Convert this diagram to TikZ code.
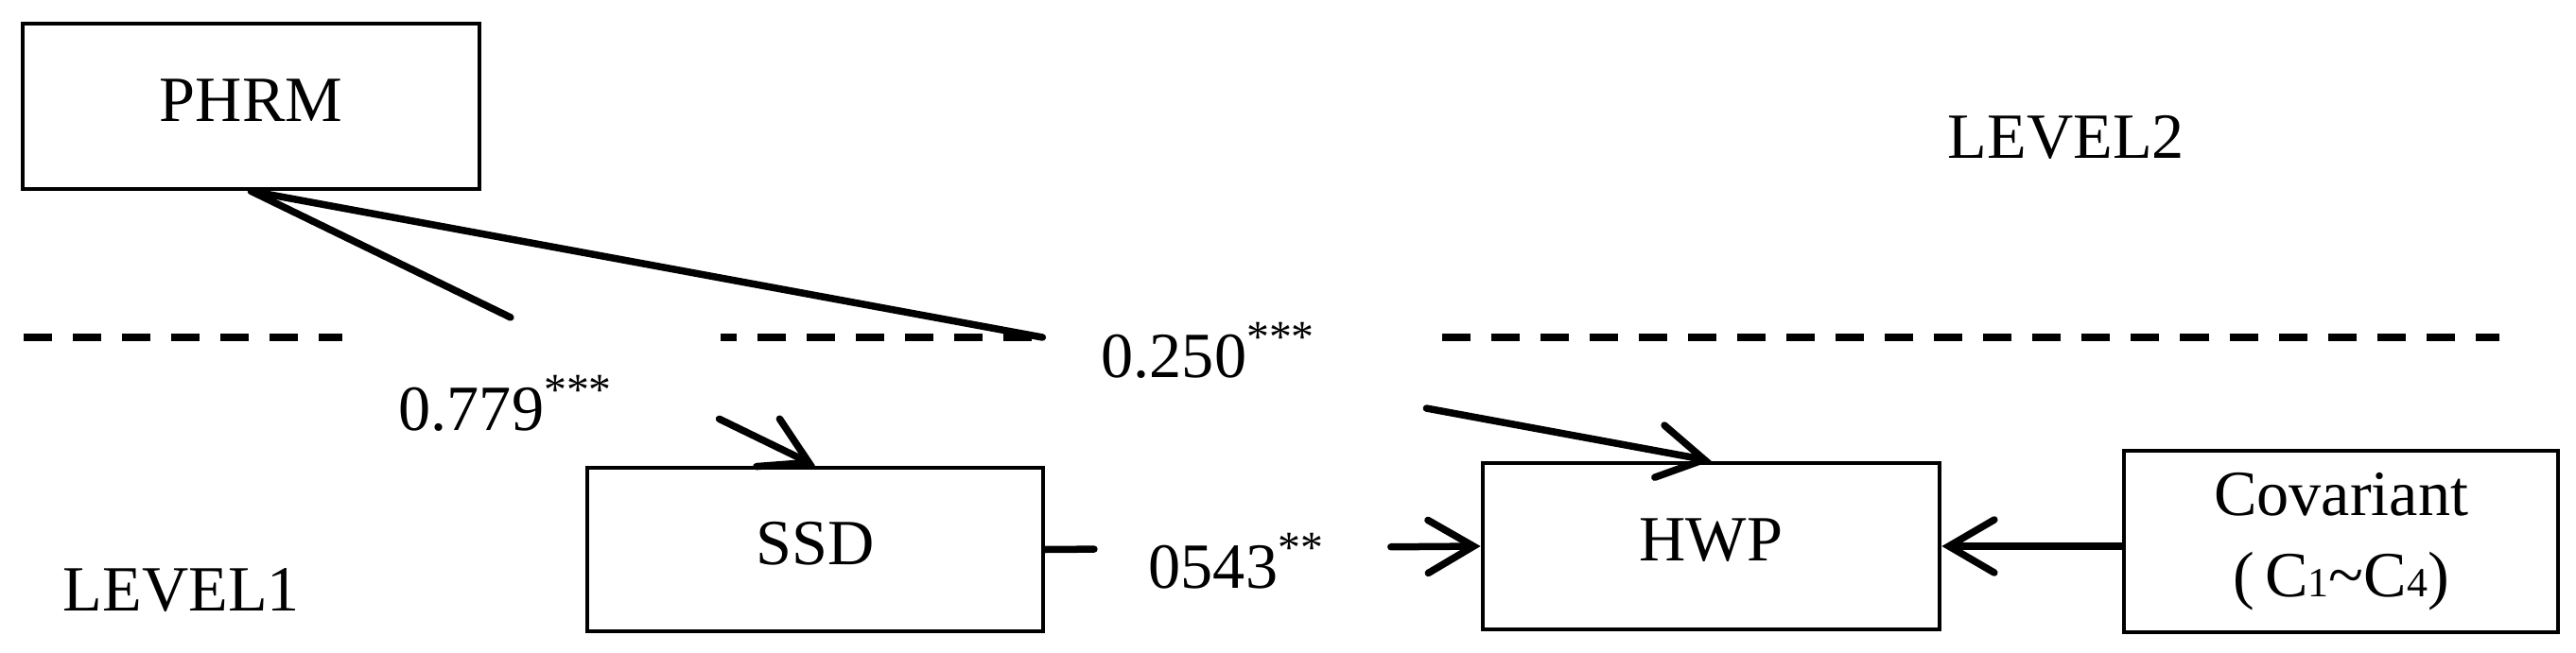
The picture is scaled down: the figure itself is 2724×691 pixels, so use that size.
\documentclass[tikz,border=0pt]{standalone}
\usepackage{fontspec}
\setmainfont{Liberation Serif}
\usepackage{tikz}
\usetikzlibrary{positioning,calc,arrows.meta}
\tikzstyle{varbox} = [rectangle, draw=black, line width=0.045cm, inner sep=0pt, text centered]
\tikzstyle{onebox} = [varbox, text height=0.9em, text depth=0pt]
\tikzstyle{link} = [line width=0.075cm, line cap=round]
\tikzstyle{connect} = [link, -{Straight Barb[length=0.48cm, width=0.56cm, line cap=round]}]
\tikzstyle{levelline} = [line width=0.075cm, dash pattern=on 0.30cm off 0.22cm]
\tikzstyle{coef} = [anchor=base west, inner sep=0pt]
\newcommand{\smallsub}[1]{{\fontsize{12.5}{12.5}\selectfont #1}}

\begin{document}
\begin{tikzpicture}[x=0.01cm, y=-0.01cm, every node/.style={font=\fontsize{19.4}{24.4}\selectfont}]
			\useasboundingbox (0,0) rectangle (2724,691);
			\node (phrm) [onebox, minimum width=4.83cm, minimum height=1.75cm] at (265.5,112.5) {PHRM};
			\node (ssd) [onebox, minimum width=4.82cm, minimum height=1.73cm] at (862,581.5) {SSD};
			\node (hwp) [onebox, minimum width=4.83cm, minimum height=1.76cm] at (1809.5,578) {HWP};
			\node (cov) [varbox, align=center, minimum width=4.59cm, minimum height=1.92cm] at (2475.5,573) {Covariant\\(\,C\smallsub{1}\textasciitilde C\smallsub{4})};
			
			\node (level2) [coef] at (2059,168) {LEVEL2};
			\node (level1) [coef] at (66,646) {LEVEL1};
			\node (b1) [coef] at (421,455) {0.779\textsuperscript{***}};
			\node (b2) [coef] at (1164,399) {0.250\textsuperscript{***}};
			\node (b3) [coef] at (1214,622) {0543\textsuperscript{**}};
			
			% level boundary
			\draw [levelline] (25,357) -- (362,357);
			\draw [levelline, dash phase=0.13cm] (762,357) -- (1104,357);
			\draw [levelline] (1525,357) -- (2643,357);
			
			\draw [link] (phrm.south) -- ($(phrm.south)!0.46!(ssd.north)$);
			\draw [connect] ($(phrm.south)!0.83!(ssd.north)$) -- (ssd.north);
			\draw [link] (phrm.south) -- ($(phrm.south)!0.542!(hwp.north)$);
			\draw [connect] ($(phrm.south)!0.805!(hwp.north)$) -- (hwp.north);
			\draw [link] (ssd.east) -- ($(ssd.east)!0.112!(hwp.west)$);
			\draw [connect] ($(ssd.east)!0.794!(hwp.west)$) -- (hwp.west);
			\draw [connect] (cov.west |- hwp.east) -- (hwp.east);
\end{tikzpicture}
\end{document}
